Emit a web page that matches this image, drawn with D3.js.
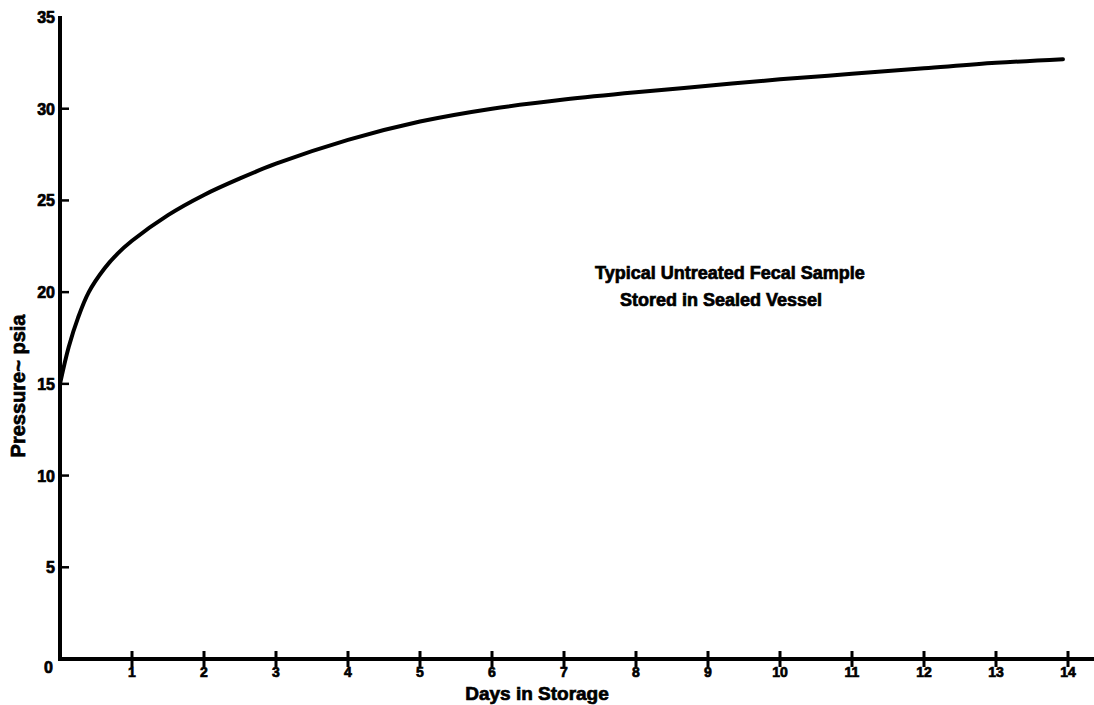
<html>
<head>
  <meta charset="UTF-8">
  <title>Pressure in storage</title>
  <script src="https://d3js.org/d3.v7.min.js"></script>
</head>
<style>
body { margin: 0; background: #fff; }
text { font-family: "Liberation Sans", Arial, sans-serif; font-weight: bold; fill: #000; stroke: #000; stroke-width: 0.7px; }
</style>
<body>
<script>

// values
var days     = [0, 0.12, 0.25, 0.4, 0.62, 0.8, 1, 1.5, 2, 2.5, 3, 4, 5, 6, 7, 8, 9, 10, 11, 12, 13, 13.93];
var pressure = [15, 17, 18.6, 20.0, 21.3, 22.1, 22.8, 24.2, 25.3, 26.2, 27.0, 28.3, 29.3, 30.0, 30.5, 30.9, 31.25, 31.6, 31.9, 32.2, 32.5, 32.7];
var xTicks = [1, 2, 3, 4, 5, 6, 7, 8, 9, 10, 11, 12, 13, 14];
var yTicks = [0, 5, 10, 15, 20, 25, 30, 35];
var note = ["Typical Untreated Fecal Sample", "Stored in Sealed Vessel"];

var width = 1094,
    height = 705;

var svg = d3.select('body')
  .append('svg')
  .attr('width', width)
  .attr('height', height);

var x = d3.scaleLinear().domain([0, 14]).range([60, 1068]);
var y = d3.scaleLinear().domain([0, 35]).range([659, 17]);

// axis lines
svg.append('line')
  .attr('x1', x(0)).attr('x2', x(0))
  .attr('y1', y(0) + 2).attr('y2', y(35) - 1)
  .attr('stroke', '#000').attr('stroke-width', 4);

svg.append('line')
  .attr('x1', x(0) - 2).attr('x2', width)
  .attr('y1', y(0)).attr('y2', y(0))
  .attr('stroke', '#000').attr('stroke-width', 4);

// y ticks
var yg = svg.append('g');
yg.selectAll('line')
  .data(yTicks.filter(function(d){ return d > 0 && d < 35; }))
  .enter()
  .append('line')
  .attr('x1', x(0)).attr('x2', x(0) + 9)
  .attr('y1', function(d){ return y(d); })
  .attr('y2', function(d){ return y(d); })
  .attr('stroke', '#000').attr('stroke-width', 2.5);

yg.selectAll('text')
  .data(yTicks)
  .enter()
  .append('text')
  .attr('x', function(d){ return d == 0 ? 53 : 55; })
  .attr('y', function(d){ return d == 0 ? y(d) + 14 : y(d) + 6; })
  .attr('text-anchor', 'end')
  .attr('font-size', 16)
  .text(function(d){ return d; });

// x ticks
var xg = svg.append('g');
xg.selectAll('line')
  .data(xTicks)
  .enter()
  .append('line')
  .attr('x1', function(d){ return x(d); })
  .attr('x2', function(d){ return x(d); })
  .attr('y1', y(0) - 8).attr('y2', y(0) + 8)
  .attr('stroke', '#000').attr('stroke-width', 3);

xg.selectAll('text')
  .data(xTicks)
  .enter()
  .append('text')
  .attr('x', function(d){ return x(d); })
  .attr('y', y(0) + 18)
  .attr('text-anchor', 'middle')
  .attr('font-size', 14)
  .text(function(d){ return d; });

// curve
var line = d3.line()
  .x(function(d, i){ return x(days[i]); })
  .y(function(d){ return y(d); })
  .curve(d3.curveCatmullRom.alpha(0.5));

svg.append('path')
  .datum(pressure)
  .attr('d', line)
  .attr('fill', 'none')
  .attr('stroke', '#000')
  .attr('stroke-width', 4)
  .attr('stroke-linecap', 'round');

// axis titles
svg.append('text')
  .attr('x', 537).attr('y', 700)
  .attr('text-anchor', 'middle')
  .attr('font-size', 19)
  .text('Days in Storage');

svg.append('text')
  .attr('transform', 'translate(25,386) rotate(-90)')
  .attr('text-anchor', 'middle')
  .attr('font-size', 20)
  .text('Pressure~ psia');

// note
svg.append('text')
  .attr('x', 595).attr('y', 279)
  .attr('font-size', 18)
  .text(note[0]);

svg.append('text')
  .attr('x', 620).attr('y', 306)
  .attr('font-size', 18)
  .text(note[1]);

</script>
</body>
</html>
